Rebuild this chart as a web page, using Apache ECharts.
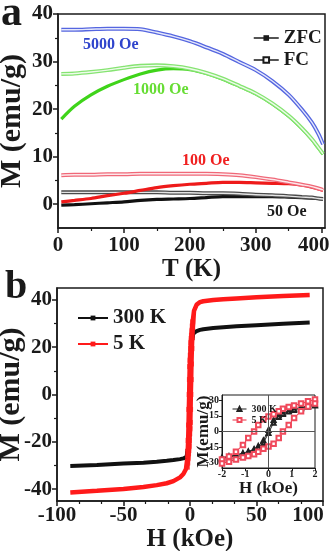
<!DOCTYPE html>
<html>
<head>
<meta charset="utf-8">
<title>M-T and M-H curves</title>
<script src="https://cdn.jsdelivr.net/npm/echarts@6.0.0/dist/echarts.min.js"></script>
<style>
  html, body { margin: 0; padding: 0; background: #fff; }
  #chart { width: 331px; height: 551px; }
</style>
</head>
<body>
<div id="chart"></div>
<script>
// ---- panel a : M vs T (ZFC / FC) ----
const tempK = [5, 25, 50, 75, 100, 125, 150, 175, 200, 225, 250, 275, 300, 325, 350, 370, 385, 395, 402];
const fc5000 = [36.7, 36.7, 36.8, 36.9, 36.9, 36.8, 36.1, 35.3, 34.3, 33.0, 31.6, 29.9, 28.2, 25.9, 23.0, 19.9, 17.2, 14.8, 12.6];
const fc1000 = [27.4, 27.5, 27.8, 28.2, 28.7, 29.1, 29.2, 29.0, 28.5, 27.6, 26.4, 24.9, 23.3, 21.2, 18.6, 16.0, 13.7, 11.9, 10.6];
const zfc1000 = [17.9, 20.6, 23.0, 24.8, 26.2, 27.4, 28.2, 28.5, 28.3, 27.5, 26.3, 24.8, 23.2, 21.1, 18.5, 15.9, 13.6, 11.8, 10.5];
const fc100 = [6.1, 6.2, 6.2, 6.3, 6.3, 6.4, 6.4, 6.4, 6.4, 6.4, 6.3, 6.1, 5.7, 5.2, 4.6, 4.1, 3.7, 3.3, 3.0];
const zfc100 = [0.5, 0.8, 1.2, 1.8, 2.3, 2.9, 3.5, 3.9, 4.2, 4.4, 4.6, 4.6, 4.5, 4.4, 4.3, 4.0, 3.6, 3.2, 2.9];
const fc50 = [2.5, 2.5, 2.5, 2.5, 2.5, 2.5, 2.5, 2.4, 2.4, 2.3, 2.3, 2.2, 2.0, 1.9, 1.7, 1.5, 1.4, 1.2, 1.1];
const zfc50 = [-0.2, -0.1, 0.1, 0.3, 0.5, 0.8, 1.0, 1.1, 1.2, 1.4, 1.6, 1.6, 1.6, 1.6, 1.5, 1.4, 1.3, 1.2, 1.1];

const tTicks = [0, 100, 200, 300, 400];
const tMinorTicks = [50, 150, 250, 350];
const mTicksA = [0, 10, 20, 30, 40];
const mMinorTicksA = [5, 15, 25, 35];

// ---- panel b : M vs H ----
const hPos = [3, 5, 7.5, 10, 17.5, 25, 35, 50, 70, 90];
const m5kPos = [35.3, 38.0, 39.0, 39.4, 39.9, 40.2, 40.6, 41.1, 41.6, 42.0];
const m300Pos = [26.0, 26.8, 27.3, 27.6, 28.1, 28.4, 28.8, 29.3, 29.9, 30.4];
const hNeg = [-3, -5, -7.5, -12.5, -17.5, -25, -35, -50, -70, -90];
const m5kNeg = [-31.5, -33.6, -35.0, -36.6, -37.5, -38.3, -39.1, -39.9, -40.7, -41.4];
const m300Neg = [-26.6, -27.0, -27.3, -27.7, -28.0, -28.4, -28.8, -29.2, -29.8, -30.2];

// low-field loop (inset), both branches on the same H grid
const hLoop = [-2, -1.7, -1.4, -1.1, -0.87, -0.62, -0.44, -0.22, 0, 0.22, 0.44, 0.62, 0.87, 1.1, 1.4, 1.7, 2];
const m5kDown = [-26.9, -24.0, -19.4, -12.9, -6.3, 0, 6.3, 11.8, 14.5, 16.6, 19.5, 21.8, 23.6, 25.0, 26.9, 28.9, 30.7];
const m5kUp = [-30.7, -28.9, -26.9, -25.0, -23.6, -21.8, -19.5, -16.6, -14.5, -11.8, -6.3, 0, 6.3, 12.9, 19.4, 24.0, 26.9];
const m300Down = [-25.0, -23.8, -22.4, -20.7, -19.2, -16.9, -14.0, -8.5, 1.5, 11.0, 15.5, 17.8, 20.0, 21.5, 23.2, 24.8, 26.0];
const m300Up = [-26.0, -24.8, -23.2, -21.5, -20.0, -17.8, -15.5, -11.0, -1.5, 8.5, 14.0, 16.9, 19.2, 20.7, 22.4, 23.8, 25.0];

const mTicksB = [-40, -20, 0, 20, 40];
const mMinorTicksB = [-30, -10, 10, 30];
const mTicksInset = [-30, -15, 0, 15, 30];

const FONT = "'Liberation Serif', 'Times New Roman', serif";
const INK = '#1a1a1a';

const pairs = (xs, ys) => xs.map((x, i) => [x, ys[i]]);

// full loop: +90 -> -90 -> +90
const fullLoop = (mPos, mNeg, mDown, mUp) => {
  const down = pairs(hPos, mPos).reverse()
    .concat(pairs(hLoop, mDown).reverse())
    .concat(pairs(hNeg, mNeg));
  const up = pairs(hNeg, mNeg).reverse()
    .concat(pairs(hLoop, mUp))
    .concat(pairs(hPos, mPos));
  return down.concat(up);
};

const chart = echarts.init(document.getElementById('chart'));

// `shift` pads the last label so it sits left of its tick like in the figure
const tickLabels = (size, margin, extra, lastValue, shift) => Object.assign({
  margin,
  fontFamily: FONT, fontWeight: 'bold', fontSize: size, color: INK,
  formatter: v => (v === lastValue ? '{s|' : '{b|') + v + '}',
  rich: {
    b: { fontFamily: FONT, fontWeight: 'bold', fontSize: size, color: INK },
    s: { fontFamily: FONT, fontWeight: 'bold', fontSize: size, color: INK, padding: [0, shift || 0, 0, 0] }
  }
}, extra || {});
const nameStyle = (size) => ({
  fontFamily: FONT, fontWeight: 'bold', fontSize: size, color: INK
});

// major axis (labels + ticks) and a twin axis that only carries the minor ticks
const majorAxis = (o) => Object.assign({
  type: 'value',
  splitLine: { show: false },
  nameLocation: 'middle'
}, o);
const minorAxis = (o) => Object.assign({
  type: 'value',
  axisLine: { show: false, onZero: false },
  axisLabel: { show: false },
  splitLine: { show: false }
}, o);
const line = (w) => ({ show: true, onZero: false, lineStyle: { color: INK, width: w } });

// FC curves: hollow-marker trail drawn as an outlined stroke
const fcSeries = (ys, color) => [
  {
    type: 'line', xAxisIndex: 0, yAxisIndex: 0, data: pairs(tempK, ys),
    symbol: 'none', smooth: 0.3, lineStyle: { color, width: 4 }
  },
  {
    type: 'line', xAxisIndex: 0, yAxisIndex: 0, data: pairs(tempK, ys),
    symbol: 'none', smooth: 0.3, lineStyle: { color: '#ffffff', width: 1.4, opacity: 0.85 }
  }
];
const zfcSeries = (ys, color) => ({
  type: 'line', xAxisIndex: 0, yAxisIndex: 0, data: pairs(tempK, ys),
  symbol: 'none', smooth: 0.3, lineStyle: { color, width: 3.2 }
});

const gridBox = (o) => Object.assign({
  show: true, borderColor: INK, borderWidth: 1.5,
  containLabel: false, outerBoundsMode: 'none'
}, o);

const option = {
  animation: false,
  backgroundColor: '#fff',
  grid: [
    gridBox({ left: 58, top: 14, width: 267, height: 214 }),
    gridBox({ left: 57, top: 288, width: 266, height: 213 }),
    gridBox({ left: 222, top: 395, width: 93, height: 73, backgroundColor: '#fff', borderWidth: 1 })
  ],
  xAxis: [
    majorAxis({
      gridIndex: 0, min: 0, max: 405, position: 'bottom',
      axisLine: line(1.5),
      axisTick: { show: true, length: 5, customValues: tTicks, lineStyle: { color: INK, width: 1.5 } },
      axisLabel: tickLabels(21, 7, { customValues: tTicks }, 400, 16),
      name: 'T (K)', nameGap: 29, nameTextStyle: nameStyle(25)
    }),
    minorAxis({
      gridIndex: 0, min: 0, max: 405, position: 'bottom',
      axisTick: { show: true, length: 3, customValues: tMinorTicks, lineStyle: { color: INK, width: 1.2 } }
    }),
    majorAxis({
      gridIndex: 1, min: -100, max: 100, interval: 50, position: 'bottom',
      axisLine: line(1.5),
      axisTick: { show: true, length: 5, lineStyle: { color: INK, width: 1.5 } },
      minorTick: { show: true, splitNumber: 3, length: 3, lineStyle: { color: INK, width: 1.2 } },
      axisLabel: tickLabels(21, 4, null, 100, 30),
      name: 'H (kOe)', nameGap: 19, nameTextStyle: nameStyle(25)
    }),
    majorAxis({
      gridIndex: 2, min: -2, max: 2, interval: 1, position: 'bottom',
      axisLine: line(1),
      axisTick: { show: true, length: 3, lineStyle: { color: INK, width: 1 } },
      axisLabel: tickLabels(10, 1),
      name: 'H (kOe)', nameGap: 6, nameTextStyle: nameStyle(17)
    })
  ],
  yAxis: [
    majorAxis({
      gridIndex: 0, min: -5, max: 40, position: 'left',
      axisLine: line(1.5),
      axisTick: { show: true, length: 5, customValues: mTicksA, lineStyle: { color: INK, width: 1.5 } },
      axisLabel: tickLabels(21, 5, { customValues: mTicksA }),
      name: 'M (emu/g)', nameGap: 31, nameMoveOverlap: false, nameTextStyle: nameStyle(30)
    }),
    minorAxis({
      gridIndex: 0, min: -5, max: 40, position: 'left',
      axisTick: { show: true, length: 3, customValues: mMinorTicksA, lineStyle: { color: INK, width: 1.2 } }
    }),
    majorAxis({
      gridIndex: 1, min: -45, max: 45, position: 'left',
      axisLine: line(1.5),
      axisTick: { show: true, length: 5, customValues: mTicksB, lineStyle: { color: INK, width: 1.5 } },
      axisLabel: tickLabels(21, 5, { customValues: mTicksB }),
      name: 'M (emu/g)', nameGap: 31, nameMoveOverlap: false, nameTextStyle: nameStyle(30)
    }),
    minorAxis({
      gridIndex: 1, min: -45, max: 45, position: 'left',
      axisTick: { show: true, length: 3, customValues: mMinorTicksB, lineStyle: { color: INK, width: 1.2 } }
    }),
    majorAxis({
      gridIndex: 2, min: -35, max: 35, position: 'left',
      axisLine: line(1),
      axisTick: { show: true, length: 3, customValues: mTicksInset, lineStyle: { color: INK, width: 1 } },
      axisLabel: tickLabels(10, 3, { customValues: mTicksInset }),
      name: 'M(emu/g)', nameGap: 10, nameMoveOverlap: false, nameTextStyle: nameStyle(17)
    })
  ],
  legend: [
    {
      data: ['ZFC', 'FC'], orient: 'vertical', left: 248, top: 23,
      itemWidth: 25, itemHeight: 7, itemGap: 2, selectedMode: false,
      lineStyle: { width: 1.5 },
      textStyle: { fontFamily: FONT, fontWeight: 'bold', fontSize: 19, lineHeight: 20, color: INK }
    },
    {
      data: ['300 K', '5 K'], orient: 'vertical', left: 72, top: 302,
      itemWidth: 30, itemHeight: 6, itemGap: 4, selectedMode: false,
      lineStyle: { width: 2 },
      textStyle: { fontFamily: FONT, fontWeight: 'bold', fontSize: 21, lineHeight: 22, color: INK }
    },
    {
      data: ['inset300', 'inset5'], orient: 'vertical', left: 227, top: 399,
      itemWidth: 14, itemHeight: 5, itemGap: 1, selectedMode: false,
      lineStyle: { width: 1 },
      formatter: n => n === 'inset300' ? '300 K' : '5 K',
      textStyle: { fontFamily: FONT, fontWeight: 'bold', fontSize: 10, lineHeight: 9, color: INK }
    }
  ],
  graphic: [
    { type: 'text', left: 1, top: -7, style: { text: 'a', font: 'bold 42px ' + FONT, fill: INK } },
    { type: 'text', left: 5, top: 268, style: { text: 'b', font: 'bold 40px ' + FONT, fill: INK } },
    { type: 'text', left: 83, top: 37, style: { text: '5000 Oe', font: 'bold 16px ' + FONT, fill: '#2f44cc' } },
    { type: 'text', left: 133, top: 82, style: { text: '1000 Oe', font: 'bold 16px ' + FONT, fill: '#66dd33' } },
    { type: 'text', left: 182, top: 153, style: { text: '100 Oe', font: 'bold 16px ' + FONT, fill: '#f02020' } },
    { type: 'text', left: 267, top: 204, style: { text: '50 Oe', font: 'bold 16px ' + FONT, fill: INK } }
  ],
  series: [
    // legend-only entries for panel a
    { name: 'ZFC', type: 'line', xAxisIndex: 0, yAxisIndex: 0, data: [], symbol: 'rect', color: INK, lineStyle: { color: INK } },
    { name: 'FC', type: 'line', xAxisIndex: 0, yAxisIndex: 0, data: [], symbol: 'emptyRect', color: INK, lineStyle: { color: INK } },

    zfcSeries(zfc50, '#111111'),
    ...fcSeries(fc50, '#4a4a4a'),
    zfcSeries(zfc100, '#ee1a1a'),
    ...fcSeries(fc100, '#f06878'),
    zfcSeries(zfc1000, '#3fd41a'),
    ...fcSeries(fc1000, '#86e472'),
    ...fcSeries(fc5000, '#5566e0'),

    // panel b main loops
    {
      name: '300 K', type: 'line', xAxisIndex: 2, yAxisIndex: 2,
      data: fullLoop(m300Pos, m300Neg, m300Down, m300Up),
      symbol: 'rect', showSymbol: false, color: '#111', lineStyle: { color: '#111', width: 4 }
    },
    {
      name: '5 K', type: 'line', xAxisIndex: 2, yAxisIndex: 2,
      data: fullLoop(m5kPos, m5kNeg, m5kDown, m5kUp),
      symbol: 'rect', showSymbol: false, color: '#ff1a1a', lineStyle: { color: '#ff1a1a', width: 4.5 }
    },
    {
      type: 'scatter', xAxisIndex: 2, yAxisIndex: 2,
      data: pairs(hLoop, m300Down).concat(pairs(hLoop, m300Up)),
      symbol: 'rect', symbolSize: 4, itemStyle: { color: '#111' }
    },
    {
      type: 'scatter', xAxisIndex: 2, yAxisIndex: 2,
      data: pairs(hLoop, m5kDown).concat(pairs(hLoop, m5kUp)),
      symbol: 'rect', symbolSize: 5, itemStyle: { color: '#ff1a1a' }
    },

    // inset loops
    {
      name: 'inset300', type: 'line', xAxisIndex: 3, yAxisIndex: 4,
      data: pairs(hLoop, m300Down).reverse().concat(pairs(hLoop, m300Up)),
      symbol: 'emptyTriangle', symbolSize: 4, color: '#222', lineStyle: { color: '#222', width: 1 },
      markLine: {
        silent: true, symbol: 'none', label: { show: false },
        lineStyle: { color: '#555', width: 1, type: 'solid' },
        data: [{ xAxis: 0 }, { yAxis: 0 }]
      }
    },
    {
      name: 'inset5', type: 'line', xAxisIndex: 3, yAxisIndex: 4,
      data: pairs(hLoop, m5kDown).reverse().concat(pairs(hLoop, m5kUp)),
      symbol: 'emptyRect', symbolSize: 4.5, color: '#f04a5c', lineStyle: { color: '#ee2a3e', width: 1 }
    }
  ]
};

chart.setOption(option);
</script>
</body>
</html>
